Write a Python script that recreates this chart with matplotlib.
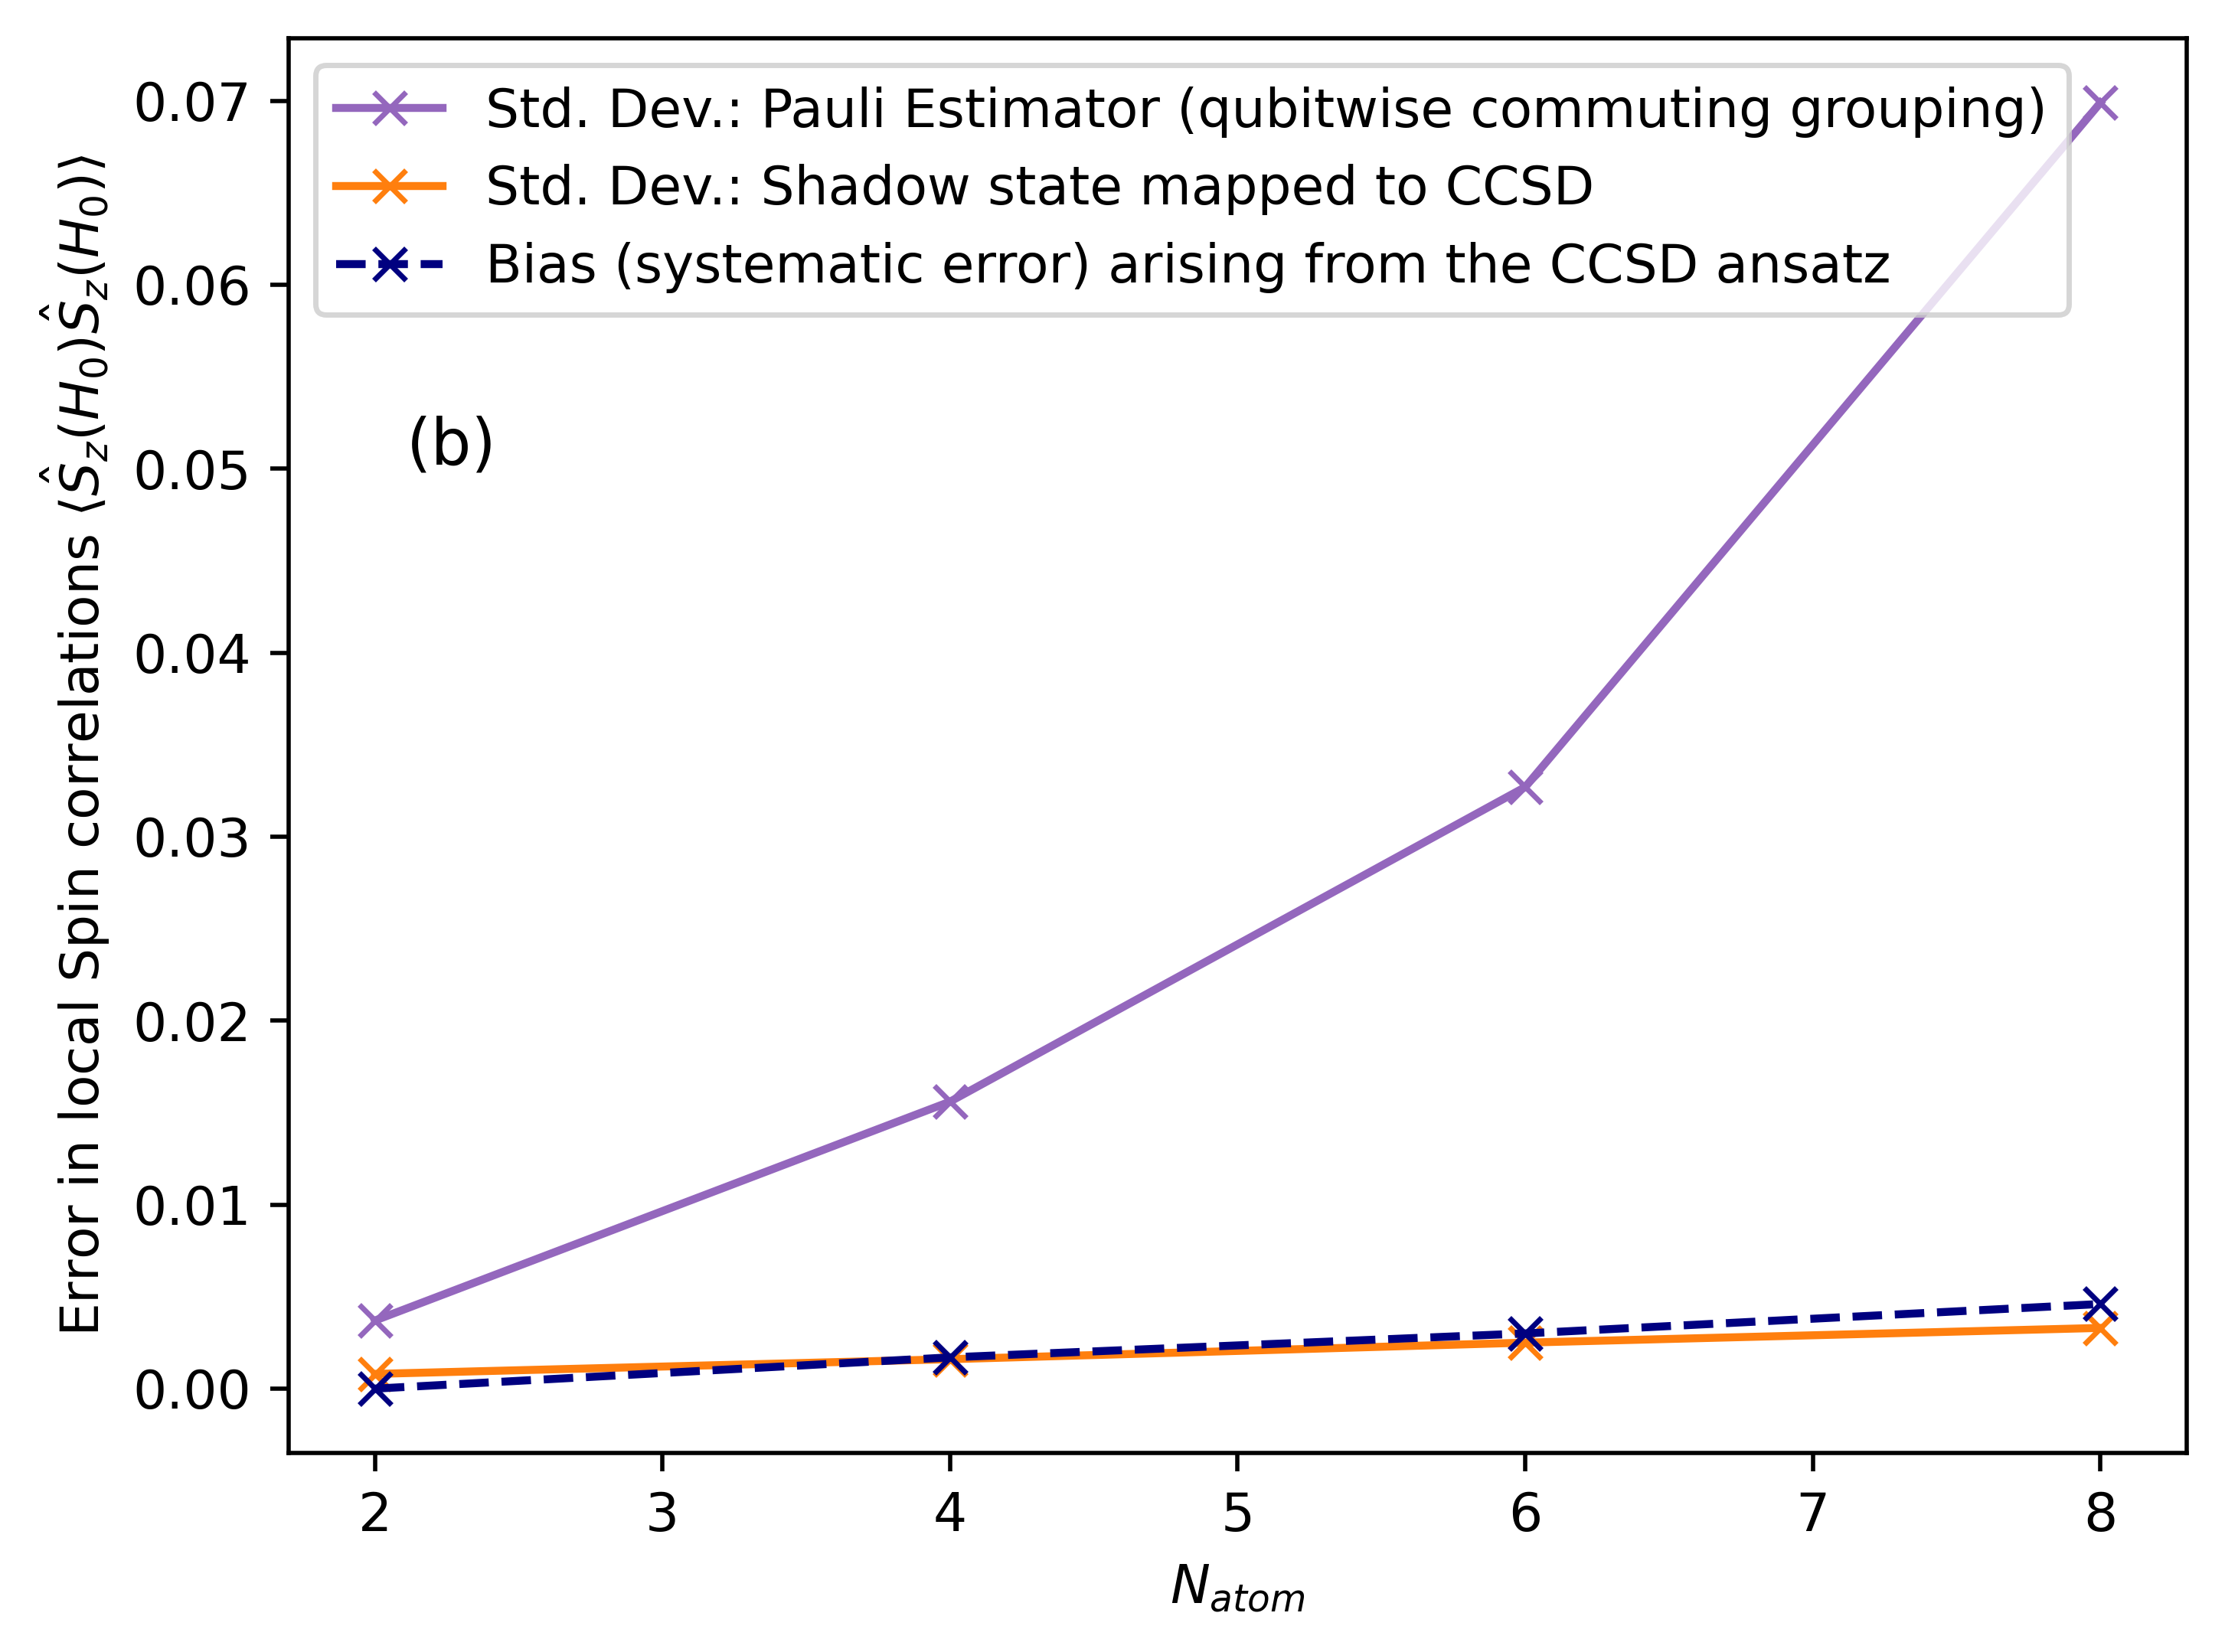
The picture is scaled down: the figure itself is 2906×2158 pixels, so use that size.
import matplotlib
matplotlib.use("Agg")
import matplotlib.pyplot as plt

# number of atoms in the chain
n_atom = [2, 4, 6, 8]
# errors
pauli_std = [0.0037, 0.0156, 0.0327, 0.0699]
shadow_std = [0.0008, 0.0016, 0.0025, 0.0033]
ccsd_bias = [0.0000, 0.0017, 0.0030, 0.0046]

fig = plt.figure(figsize=(5.812, 4.316), dpi=500)
ax = fig.add_axes([0.1297, 0.1205, 0.8531, 0.8563])

ax.plot(n_atom, pauli_std, marker='x', color='tab:purple',
        label='Std. Dev.: Pauli Estimator (qubitwise commuting grouping)')
ax.plot(n_atom, shadow_std, marker='x', color='tab:orange',
        label='Std. Dev.: Shadow state mapped to CCSD')
ax.plot(n_atom, ccsd_bias, marker='x', linestyle='--', color='navy',
        label='Bias (systematic error) arising from the CCSD ansatz')

ax.text(2.11, 0.0512, '(b)', fontsize=12, va='center')
ax.set_xlabel(r'$N_{atom}$')
ax.set_ylabel(r'Error in local Spin correlations '
              r'$\langle\hat{S}_z(H_0)\hat{S}_z(H_0)\rangle$')
ax.legend(loc='upper left')

fig.savefig('out.png', dpi=500)
